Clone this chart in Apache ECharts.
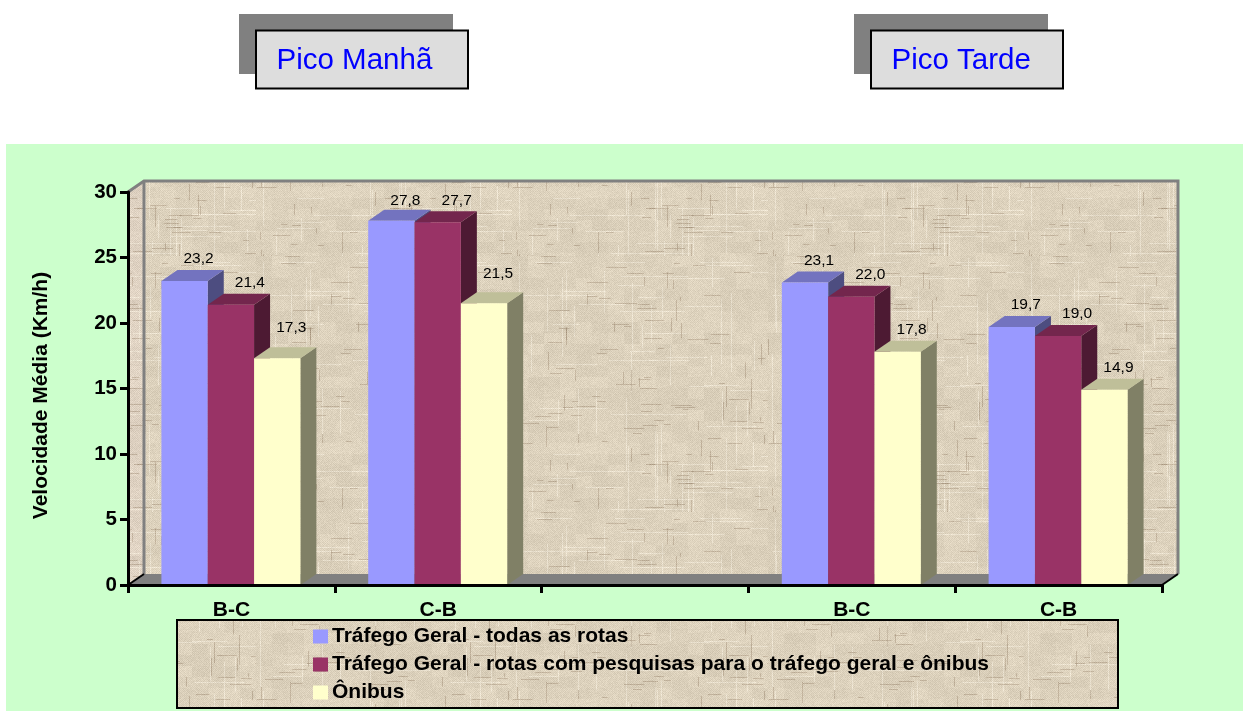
<!DOCTYPE html>
<html>
<head>
<meta charset="utf-8">
<style>html,body{margin:0;padding:0;background:#fff}#c{width:1243px;height:711px}</style>
<script src="https://cdn.jsdelivr.net/npm/echarts@6/dist/echarts.min.js"></script>
</head>
<body>
<div id="c"></div>
<script>
const categories = ['B-C', 'C-B', '', 'B-C', 'C-B'];
const geralTodas = [23.2, 27.8, null, 23.1, 19.7];
const geralPesquisas = [21.4, 27.7, null, 22.0, 19.0];
const onibus = [17.3, 21.5, null, 17.8, 14.9];
const seriesNames = [
  'Tráfego Geral - todas as rotas',
  'Tráfego Geral - rotas com pesquisas para o tráfego geral e ônibus',
  'Ônibus'
];
const panelTitles = ['Pico Manhã', 'Pico Tarde'];
const yTicks = { min: 0, max: 30, interval: 5 };

const FONT = '"Liberation Sans", Arial, sans-serif';
const DX = 16, DY = 11;
const faces = [
  { front: '#9999FF', top: '#7373BF', side: '#4D4D80', labelDx: 14 },
  { front: '#993366', top: '#73264D', side: '#4D1A33', labelDx: 19 },
  { front: '#FFFFCC', top: '#BFBF99', side: '#808066', labelDx: 14 }
];
const labelLift = { '0-2': 9, '1-2': 8, '1-0': -2, '1-1': -1 };

function makeTexture(pink) {
  const S = 256, cv = document.createElement('canvas');
  cv.width = cv.height = S;
  const g = cv.getContext('2d');
  const h = (a, b) => { const s = Math.sin(a * 12.9898 + b * 78.233) * 43758.5453; return s - Math.floor(s); };
  g.fillStyle = pink ? '#DFD2C2' : '#DCD1BC';
  g.fillRect(0, 0, S, S);
  // woven threads: long pale strands and short dark slubs
  for (let i = 0; i < 90; i++) {
    const x = Math.floor(h(i, 1.3) * S), y = Math.floor(h(i, 2.7) * S);
    const len = 20 + h(i, 3.9) * 60, horiz = i % 2 === 0;
    g.fillStyle = 'rgba(240,232,215,0.65)';
    g.fillRect(x, y, horiz ? len : 1, horiz ? 1 : len);
  }
  for (let i = 0; i < 140; i++) {
    const x = Math.floor(h(i, 4.1) * S), y = Math.floor(h(i, 5.3) * S);
    const len = 4 + h(i, 6.7) * 18, horiz = i % 3 !== 0;
    g.fillStyle = 'rgba(150,130,105,0.38)';
    g.fillRect(x, y, horiz ? len : 1, horiz ? 1 : len);
  }
  const im = g.getImageData(0, 0, S, S);
  for (let y = 0; y < S; y++) for (let x = 0; x < S; x++) {
    const dither = ((x + y) % 2 ? 6 : -6) + (h(x, y) - 0.5) * 14;
    const blotch = (h(Math.floor(x / 16), Math.floor(y / 11)) - 0.5) * 10;
    const i = (y * S + x) * 4;
    for (let c = 0; c < 3; c++) im.data[i + c] += dither + blotch;
  }
  g.putImageData(im, 0, 0);
  return cv;
}
const texture = { image: makeTexture(false), repeat: 'repeat' };
const textureSide = { image: makeTexture(true), repeat: 'repeat' };

function renderWalls(params, api) {
  const [x0, y0] = api.coord([0, yTicks.min]);
  const catW = api.size([1, 0])[0];
  const left = x0 - catW / 2, right = left + catW * categories.length;
  const yTop = api.coord([0, yTicks.max])[1];
  const gray = '#808080';
  return { type: 'group', silent: true, children: [
    { type: 'polygon', shape: { points: [[left, y0], [left + DX, y0 - DY], [left + DX, yTop - DY], [left, yTop]] },
      style: { fill: textureSide } },
    { type: 'rect', shape: { x: left + DX, y: yTop - DY, width: right - left, height: y0 - yTop },
      style: { fill: texture } },
    { type: 'polygon', shape: { points: [[left, y0], [left + DX, y0 - DY], [right + DX, y0 - DY], [right, y0]] },
      style: { fill: gray } },
    { type: 'polyline', shape: { points: [[left, yTop], [left + DX, yTop - DY], [right + DX, yTop - DY], [right + DX, y0 - DY]] },
      style: { fill: 'none', stroke: gray, lineWidth: 3 } },
    { type: 'line', shape: { x1: left + DX, y1: yTop - DY, x2: left + DX, y2: y0 - DY },
      style: { stroke: gray, lineWidth: 3 } },
    { type: 'line', shape: { x1: left, y1: y0, x2: left + DX, y2: y0 - DY },
      style: { stroke: '#000', lineWidth: 2 } },
    { type: 'line', shape: { x1: right, y1: y0, x2: right + DX, y2: y0 - DY },
      style: { stroke: '#000', lineWidth: 2 } }
  ] };
}

function barRenderer(s) {
  return function (params, api) {
    const idx = api.value(0), val = api.value(1);
    if (val == null || isNaN(val)) return null;
    const [cx, yBase] = api.coord([idx, 0]);
    const yTop = api.coord([idx, val])[1];
    const w = api.size([1, 0])[0] * 0.224;
    const l = cx + (s - 1.5) * w - 0.5, r = l + w;
    const f = faces[s];
    const lift = labelLift[idx + '-' + s] || 0;
    return { type: 'group', children: [
      { type: 'polygon', shape: { points: [[r, yTop], [r + DX, yTop - DY], [r + DX, yBase - DY], [r, yBase]] }, style: { fill: f.side } },
      { type: 'polygon', shape: { points: [[l, yTop], [l + DX, yTop - DY], [r + DX, yTop - DY], [r, yTop]] }, style: { fill: f.top } },
      { type: 'rect', shape: { x: l, y: yTop, width: w, height: yBase - yTop }, style: { fill: f.front } },
      { type: 'text', style: {
          x: l + w / 2 + f.labelDx, y: yTop - 22 - lift,
          text: val.toFixed(1).replace('.', ','),
          textAlign: 'center', textVerticalAlign: 'middle',
          fill: '#000', font: '15.5px ' + FONT } }
    ] };
  };
}

function pairOf(values) { return values.map((v, i) => [i, v]); }

function titleBox(xShadow, wShadow, xBox, wBox, text) {
  return [
    { type: 'rect', shape: { x: xShadow, y: 14, width: wShadow, height: 60 }, style: { fill: '#808080' } },
    { type: 'rect', shape: { x: xBox, y: 30.5, width: wBox, height: 58 }, style: { fill: '#DDDDDD', stroke: '#000', lineWidth: 2 } },
    { type: 'text', style: { x: xBox + 20.5, y: 61, text, textVerticalAlign: 'middle', fill: '#0000FF', font: '29.5px ' + FONT } }
  ];
}

const chart = echarts.init(document.getElementById('c'), null, { renderer: 'canvas' });
chart.setOption({
  animation: false,
  backgroundColor: '#fff',
  grid: { left: 128, top: 192, width: 1034, height: 393 },
  xAxis: {
    type: 'category', data: categories, z: 5,
    axisLine: { lineStyle: { color: '#000', width: 3 } },
    axisTick: { show: true, length: 8, lineStyle: { color: '#000', width: 3 } },
    axisLabel: { color: '#000', fontFamily: FONT, fontWeight: 'bold', fontSize: 21, margin: 15 }
  },
  yAxis: {
    type: 'value', min: yTicks.min, max: yTicks.max, interval: yTicks.interval, z: 5,
    name: 'Velocidade Média (Km/h)', nameLocation: 'middle', nameRotate: 90, nameGap: 76,
    nameTextStyle: { color: '#000', fontFamily: FONT, fontWeight: 'bold', fontSize: 21, padding: [0, 14, 0, 0] },
    splitLine: { show: false },
    axisLine: { show: true, lineStyle: { color: '#000', width: 3 } },
    axisTick: { show: true, length: 8, lineStyle: { color: '#000', width: 3 } },
    axisLabel: { color: '#000', fontFamily: FONT, fontWeight: 'bold', fontSize: 20.5, margin: 11 }
  },
  legend: {
    orient: 'vertical', left: 310, top: 626, itemWidth: 15, itemHeight: 14, itemGap: 7,
    icon: 'rect', data: seriesNames, selectedMode: false, padding: [0, 0, 0, 3],
    textStyle: { color: '#000', fontFamily: FONT, fontWeight: 'bold', fontSize: 21, padding: [0, 0, 0, -1] }
  },
  graphic: { elements: [
    { type: 'rect', silent: true, z: -10, shape: { x: 6, y: 144, width: 1237, height: 567 }, style: { fill: '#CCFFCC' } },
    { type: 'rect', silent: true, z: -9, shape: { x: 177, y: 620, width: 941, height: 88 }, style: { fill: texture, stroke: '#000', lineWidth: 2 } },
    ...titleBox(239, 214, 256, 212, panelTitles[0]),
    ...titleBox(854, 194, 871, 192, panelTitles[1])
  ] },
  series: [
    { type: 'custom', name: '__walls', z: 1, silent: true, renderItem: renderWalls, data: [[0, 0]], encode: { x: 0, y: 1 }, clip: false },
    ...[geralTodas, geralPesquisas, onibus].map((vals, s) => ({
      type: 'custom', name: seriesNames[s], z: 2 + s, silent: true,
      itemStyle: { color: faces[s].front },
      renderItem: barRenderer(s), data: pairOf(vals), encode: { x: 0, y: 1 }, clip: false
    }))
  ]
});
</script>
</body>
</html>
